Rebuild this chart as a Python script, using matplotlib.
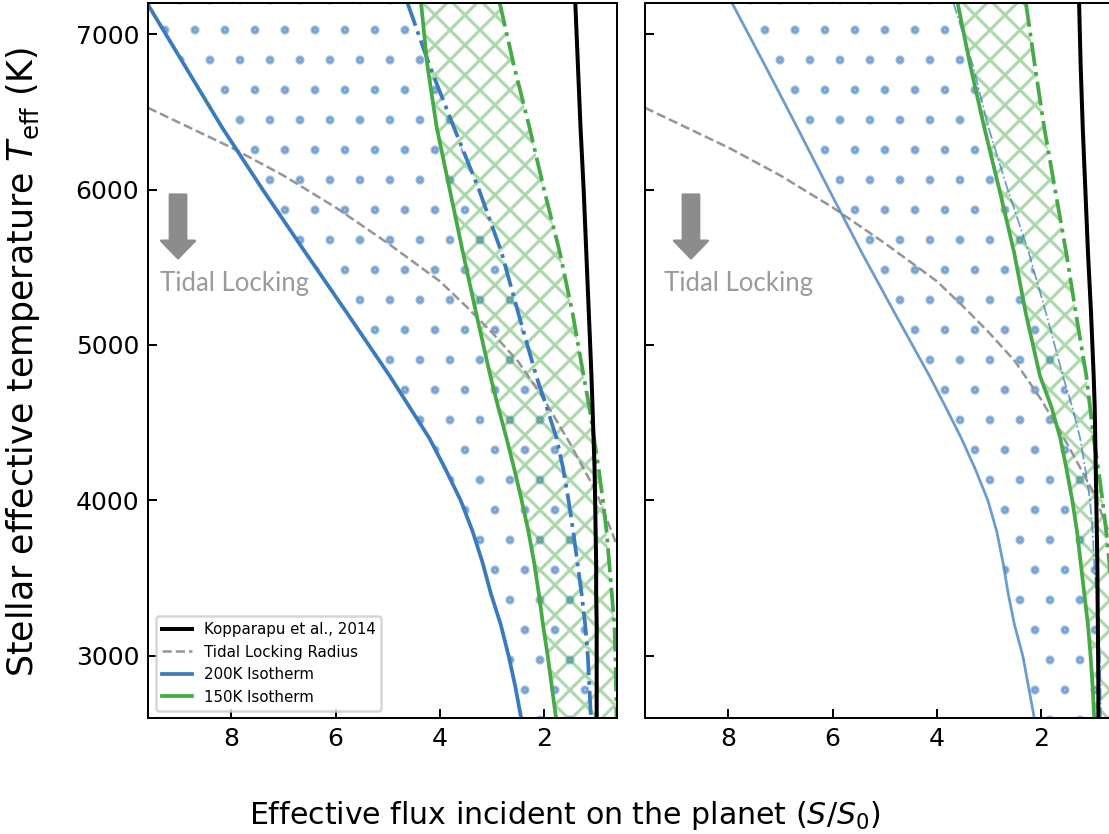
import numpy as np
import matplotlib
matplotlib.use("Agg")
import matplotlib.pyplot as plt
from matplotlib.lines import Line2D

# ── Data ──────────────────────────────────────────────────────────────────────
teff = [7200, 6800, 6400, 6000, 5600, 5200, 4800, 4600, 4400, 4200,
        4000, 3800, 3600, 3400, 3200, 3000, 2800, 2600]

# left panel
kop_left      = [1.40, 1.35, 1.30, 1.24, 1.19, 1.14, 1.09, 1.07, 1.05, 1.03,
                 1.02, 1.01, 1.00, 1.00, 0.99, 0.99, 0.99, 0.99]
iso200_left   = [9.62, 8.90, 8.18, 7.40, 6.59, 5.77, 4.96, 4.58, 4.20, 3.89,
                 3.60, 3.37, 3.18, 3.02, 2.83, 2.68, 2.55, 2.44]
iso200d_left  = [4.62, 4.20, 3.73, 3.25, 2.82, 2.49, 2.15, 1.95, 1.76, 1.63,
                 1.53, 1.44, 1.36, 1.28, 1.21, 1.16, 1.13, 1.10]
iso150_left   = [4.36, 4.24, 4.06, 3.81, 3.56, 3.30, 3.03, 2.88, 2.72, 2.57,
                 2.43, 2.30, 2.19, 2.10, 2.02, 1.93, 1.85, 1.77]
iso150d_left  = [2.85, 2.58, 2.28, 2.00, 1.70, 1.45, 1.24, 1.13, 1.04, 0.95,
                 0.87, 0.80, 0.75, 0.70, 0.65, 0.63, 0.62, 0.61]

# right panel
kop_right     = [1.27, 1.24, 1.20, 1.15, 1.10, 1.04, 0.99, 0.97, 0.96, 0.95,
                 0.94, 0.93, 0.92, 0.915, 0.91, 0.905, 0.90, 0.90]
iso200_right  = [7.93, 7.30, 6.68, 6.07, 5.45, 4.80, 4.14, 3.83, 3.53, 3.26,
                 3.02, 2.85, 2.73, 2.63, 2.51, 2.35, 2.24, 2.13]
iso200d_right = [3.68, 3.31, 3.01, 2.64, 2.24, 1.90, 1.58, 1.40, 1.25, 1.15,
                 1.06, 1.01, 0.98, 0.94, 0.90, 0.87, 0.86, 0.85]
iso150_right  = [3.60, 3.36, 3.09, 2.80, 2.52, 2.29, 2.02, 1.80, 1.63, 1.51,
                 1.40, 1.31, 1.24, 1.17, 1.10, 1.05, 1.01, 0.98]
iso150d_right = [2.29, 2.12, 1.94, 1.73, 1.52, 1.33, 1.13, 1.06, 0.99, 0.90,
                 0.82, 0.75, 0.69, 0.65, 0.62, 0.60, 0.58, 0.56]

# tidal locking radius (same in both panels)
tidal_flux = [9.6, 8.0, 7.0, 6.0, 5.0, 4.0, 3.5, 3.0, 2.5, 2.0, 1.5, 1.0, 0.6, 0.5]
tidal_teff = [6526, 6270, 6090, 5885, 5655, 5410, 5250, 5080, 4895, 4650,
              4365, 4055, 3710, 3610]

BLUE  = "#3a7bbf"
GREEN = "#46ab46"
GRAY  = "#959595"

plt.rcParams["hatch.linewidth"] = 1.25

W, H, DPI = 1109, 834, 180
fig = plt.figure(figsize=(W / DPI, H / DPI), dpi=DPI)

ax1 = fig.add_axes([148 / W, 116 / H, 469 / W, 715 / H])
ax2 = fig.add_axes([645 / W, 116 / H, 469 / W, 715 / H], sharey=ax1)


def draw_panel(ax, kop, i200, i200d, i150, i150d, right=False):
    # hatched regions
    ax.fill_betweenx(teff, i200, i200d, facecolor="none", edgecolor=BLUE,
                     alpha=0.5, hatch=".", linewidth=0)
    ax.fill_betweenx(teff, i150, i150d, facecolor="none", edgecolor=GREEN,
                     alpha=0.45, hatch="xx", linewidth=0)

    ax.plot(tidal_flux, tidal_teff, "--", color=GRAY, lw=1.0)
    if right:
        ax.plot(i200, teff, "-", color=BLUE, lw=1.1, alpha=0.75)
        ax.plot(i200d, teff, "-.", color=BLUE, lw=0.7, alpha=0.75)
    else:
        ax.plot(i200, teff, "-", color=BLUE, lw=1.5)
        ax.plot(i200d, teff, "-.", color=BLUE, lw=1.5)
    ax.plot(i150, teff, "-", color=GREEN, lw=1.5)
    ax.plot(i150d, teff, "-.", color=GREEN, lw=1.5)
    ax.plot(kop, teff, "-", color="black", lw=1.6)

    ax.set_xlim(9.6, 0.6)
    ax.set_ylim(2600, 7200)
    ax.set_xticks([8, 6, 4, 2])
    ax.set_yticks([3000, 4000, 5000, 6000, 7000])
    ax.tick_params(direction="in", labelsize=10)


draw_panel(ax1, kop_left, iso200_left, iso200d_left, iso150_left, iso150d_left)
draw_panel(ax2, kop_right, iso200_right, iso200d_right, iso150_right, iso150d_right, right=True)
ax2.tick_params(labelleft=False)

# tidal locking arrows + labels
arrow = dict(arrowstyle="simple,head_length=0.7,head_width=1.35,tail_width=0.65",
             color="#8c8c8c", shrinkA=0, shrinkB=0)
for ax, xa, xt in [(ax1, 0.064, 0.025), (ax2, 0.098, 0.04)]:
    ax.annotate("", xy=(xa, 0.643), xytext=(xa, 0.732), xycoords="axes fraction",
                arrowprops=dict(arrow, mutation_scale=10))
    ax.text(xt, 0.607, "Tidal Locking", transform=ax.transAxes, color="#9a9a9a",
            fontsize=10.3, family="Lato", va="center", ha="left")

# legend
handles = [
    Line2D([], [], color="black", lw=1.6),
    Line2D([], [], color=GRAY, lw=1.0, ls="--"),
    Line2D([], [], color=BLUE, lw=1.5),
    Line2D([], [], color=GREEN, lw=1.5),
]
labels = ["Kopparapu et al., 2014", "Tidal Locking Radius", "200K Isotherm", "150K Isotherm"]
ax1.legend(handles, labels, loc="lower left", fontsize=6)

fig.text(23 / W, 1 - 362 / H, r"Stellar effective temperature $T_{\rm eff}$ (K)",
         rotation=90, fontsize=13.9, ha="center", va="center")
fig.text(565 / W, 1 - 815 / H, r"Effective flux incident on the planet ($S/S_0$)",
         fontsize=12, ha="center", va="center")

fig.savefig("out.png", dpi=DPI)
